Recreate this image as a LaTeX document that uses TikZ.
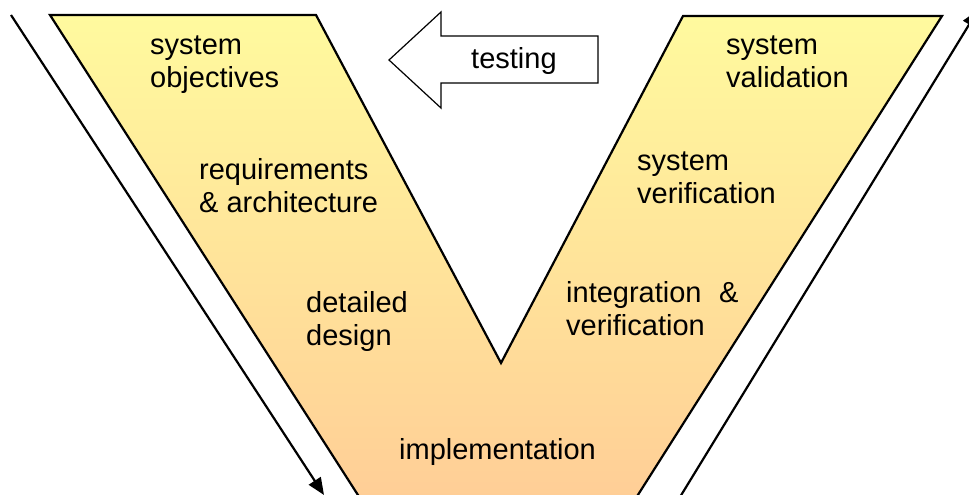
\documentclass[tikz,border=0pt]{standalone}
\usepackage{fontspec}
\setmainfont{Liberation Sans}
\usetikzlibrary{arrows.meta}
\definecolor{vtop}{RGB}{255,250,158}
\definecolor{vbot}{RGB}{255,204,150}
\tikzset{
  lbl/.style={anchor=base west, inner sep=0pt, align=left, font=\fontsize{29}{33}\selectfont},
  vedge/.style={draw=black, line width=2.2pt, line join=miter},
  flow/.style={draw=black, line width=2.2pt, -{Triangle[length=17pt,width=14pt]}},
}
\begin{document}
\begin{tikzpicture}[x=1pt,y=-1pt]
\useasboundingbox (0,0) rectangle (969,495);
\clip (0,0) rectangle (969,495);
% V shape
\coordinate (a1) at (50,15);
\coordinate (a2) at (316,15);
\coordinate (a3) at (501,363);
\coordinate (a4) at (683,16);
\coordinate (a5) at (942,16);
\coordinate (a6) at (622,520);
\coordinate (a7) at (374,520);
\shade[top color=vtop, bottom color=vbot] (a1) -- (a2) -- (a3) -- (a4) -- (a5) -- (a6) -- (a7) -- cycle;
\draw[vedge] (a7) -- (a1) -- (a2) -- (a3) -- (a4) -- (a5) -- (a6);
% side arrows
\coordinate (l1) at (11,15);
\coordinate (l2) at (324,495);
\draw[flow] (l1) -- (l2);
\coordinate (r1) at (680,497);
\coordinate (r2) at (978,10);
\draw[flow] (r1) -- (r2);
% testing arrow
\draw[fill=white, line width=1.2pt] (389,60) coordinate (t0) -- (441,12) -- (441,36) -- (598,36) -- (598,83) -- (441,83) -- (441,108) -- cycle;
\node[lbl] (testing) at (471,68) {testing};
% labels
\node[lbl] (so) at (150,88) {system\\objectives};
\node[lbl] (ra) at (199,212) {requirements\\\& architecture};
\node[lbl] (dd) at (306,345) {detailed\\design};
\node[lbl] (im) at (399,459) {implementation};
\node[lbl] (iv) at (566,335) {integration\hspace{0.6em}\&\\verification};
\node[lbl] (sv) at (637,203) {system\\verification};
\node[lbl] (sva) at (726,88) {system\\validation};
\end{tikzpicture}
\end{document}
